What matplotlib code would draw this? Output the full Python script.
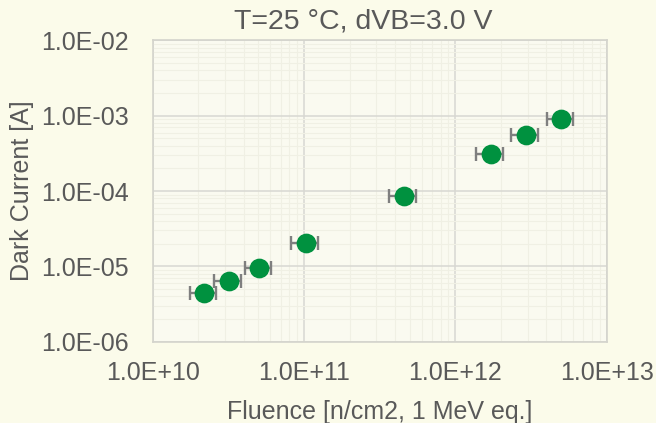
import matplotlib
matplotlib.use("Agg")
import matplotlib.pyplot as plt
from matplotlib.ticker import LogLocator, FixedLocator, NullFormatter

# Dark current vs. fluence (T = 25 degC, dVB = 3.0 V)
fluence = [2.19e10, 3.20e10, 5.06e10, 1.03e11, 4.55e11, 1.71e12, 2.91e12, 5.01e12]
dark_current = [4.4e-6, 6.4e-6, 9.6e-6, 2.04e-5, 8.6e-5, 3.1e-4, 5.6e-4, 9.1e-4]
fluence_rel_err = 0.20

x_ticks = [1e10, 1e11, 1e12, 1e13]
x_tick_labels = ["1.0E+10", "1.0E+11", "1.0E+12", "1.0E+13"]
y_ticks = [1e-6, 1e-5, 1e-4, 1e-3, 1e-2]
y_tick_labels = ["1.0E-06", "1.0E-05", "1.0E-04", "1.0E-03", "1.0E-02"]

title = "T=25 °C, dVB=3.0 V"
x_label = "Fluence [n/cm2, 1 MeV eq.]"
y_label = "Dark Current [A]"

plt.rcParams["font.family"] = ["Liberation Sans", "DejaVu Sans"]

W, H, DPI = 656, 423, 100
fig = plt.figure(figsize=(W / DPI, H / DPI), dpi=DPI, facecolor="#fbfbea")

left_px, right_px, top_px, bottom_px = 152.7, 606.7, 40.5, 341.7
ax = fig.add_axes([left_px / W, 1 - bottom_px / H,
                   (right_px - left_px) / W, (bottom_px - top_px) / H])
ax.set_facecolor("#fafaf0")

ax.set_xscale("log")
ax.set_yscale("log")
ax.set_xlim(x_ticks[0], x_ticks[-1])
ax.set_ylim(y_ticks[0], y_ticks[-1])

ax.xaxis.set_major_locator(FixedLocator(x_ticks))
ax.set_xticks(x_ticks, x_tick_labels)
ax.set_yticks(y_ticks, y_tick_labels)
ax.xaxis.set_minor_locator(LogLocator(base=10, subs=range(2, 10)))
ax.yaxis.set_minor_locator(LogLocator(base=10, subs=range(2, 10)))
ax.xaxis.set_minor_formatter(NullFormatter())
ax.yaxis.set_minor_formatter(NullFormatter())

ax.grid(which="minor", color="#f0f0e4", linewidth=0.8)
ax.grid(which="major", color="#d8d8d2", linewidth=1.1)
ax.set_axisbelow(True)

ax.tick_params(which="both", length=0)
ax.tick_params(axis="x", which="major", pad=14, labelsize=18, labelcolor="#595959")
ax.tick_params(axis="y", which="major", pad=17, labelsize=18, labelcolor="#595959")

for sp in ax.spines.values():
    sp.set_color("#d4d4cc")
    sp.set_linewidth(1.2)

x_err_lo = [f * fluence_rel_err for f in fluence]
x_err_hi = [f * fluence_rel_err for f in fluence]
ax.errorbar(fluence, dark_current, xerr=[x_err_lo, x_err_hi], fmt="none",
            ecolor="#7f7f7f", elinewidth=1.7, capsize=4.8, capthick=1.7, zorder=3)
ax.plot(fluence, dark_current, linestyle="none", marker="o", markersize=13.2,
        markerfacecolor="#00913f", markeredgecolor="#00913f", zorder=4)

fig.text(363 / W, 1 - 28.5 / H, title, ha="center", va="baseline",
         fontsize=20.5, color="#595959")
fig.text((left_px + right_px) / 2 / W, 1 - 419 / H, x_label, ha="center",
         va="baseline", fontsize=18, color="#595959")
fig.text(22 / W, 1 - (top_px + bottom_px) / 2 / H, y_label, ha="center",
         va="center", rotation=90, fontsize=18, color="#595959")

fig.savefig("out.png", dpi=DPI, facecolor=fig.get_facecolor())
